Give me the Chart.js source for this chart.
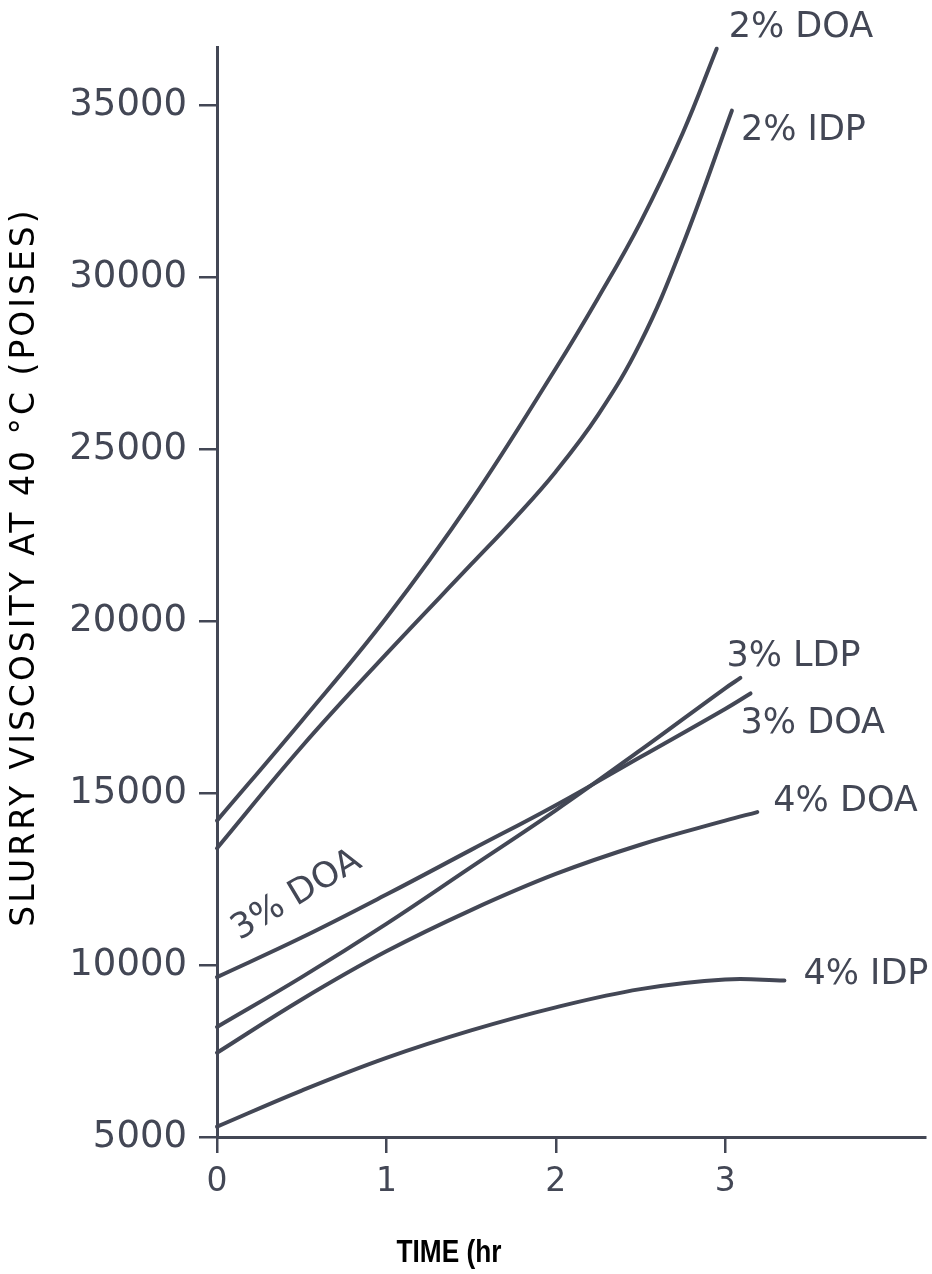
<!DOCTYPE html>
<html>
<head>
<meta charset="utf-8">
<script src="https://cdn.jsdelivr.net/npm/chart.js@4/dist/chart.umd.min.js"></script>
<style>
  html, body { margin: 0; padding: 0; background: #fff; }
  #wrap { width: 932px; height: 1274px; position: relative; }
</style>
</head>
<body>
<div id="wrap"><canvas id="viscChart"></canvas></div>
<script>
//tick values
const xTicks = [0, 1, 2, 3];
const yTicks = [5000, 10000, 15000, 20000, 25000, 30000, 35000];

//curve names
const seriesNames = ["2% DOA", "2% IDP", "3% LDP", "3% DOA", "4% DOA", "4% IDP"];

//time (hr) and viscosity (poises)
const doa2Time = [0, 0.5, 1, 1.5, 2, 2.25, 2.5, 2.75, 2.95];
const doa2Visc = [14200, 17100, 20100, 23500, 27350, 29400, 31600, 34200, 36650];

const idp2Time = [0, 0.5, 1, 1.5, 1.75, 2, 2.25, 2.5, 2.75, 3.04];
const idp2Visc = [13400, 16350, 19050, 21650, 22950, 24350, 26000, 28100, 30950, 34850];

const ldp3Time = [0, 0.5, 1, 1.5, 2, 2.5, 3, 3.09];
const ldp3Visc = [8200, 9650, 11200, 12850, 14500, 16250, 18050, 18350];

const doa3Time = [0, 0.5, 1, 1.5, 2, 2.5, 3, 3.15];
const doa3Visc = [9650, 10800, 12050, 13350, 14650, 16050, 17450, 17900];

const doa4Time = [0, 0.5, 1, 1.5, 2, 2.5, 3, 3.19];
const doa4Visc = [7450, 9000, 10400, 11600, 12650, 13500, 14200, 14450];

const idp4Time = [0, 0.5, 1, 1.5, 2, 2.5, 3, 3.35];
const idp4Visc = [5300, 6350, 7300, 8100, 8770, 9300, 9580, 9550];

const inkColor = "#434755";
const labelFont = "35px 'DejaVu Sans'";

//pair up x and y arrays for the library
function toPoints(xs, ys) {
  return xs.map((x, i) => ({ x: x, y: ys[i] }));
}

//label placement next to the end of each curve (pixel offsets)
const endLabelOffsets = [
  [12, -21],
  [9, 20],
  [-14, -21],
  [-10, 30],
  [16, -10],
  [19, -6]
];

const allSeries = [
  toPoints(doa2Time, doa2Visc),
  toPoints(idp2Time, idp2Visc),
  toPoints(ldp3Time, ldp3Visc),
  toPoints(doa3Time, doa3Visc),
  toPoints(doa4Time, doa4Visc),
  toPoints(idp4Time, idp4Visc)
];

const datasets = allSeries.map((pts, i) => ({
  label: seriesNames[i],
  data: pts,
  borderColor: inkColor,
  borderWidth: 4,
  borderCapStyle: "round",
  pointRadius: 0,
  tension: 0.4,
  fill: false,
  clip: false
}));

//draws curve names and axis titles
const curveLabels = {
  id: "curveLabels",
  afterDatasetsDraw(chart) {
    const ctx = chart.ctx;
    ctx.save();
    ctx.fillStyle = inkColor;
    ctx.font = labelFont;
    ctx.textAlign = "left";
    ctx.textBaseline = "middle";

    chart.data.datasets.forEach((ds, i) => {
      const pts = chart.getDatasetMeta(i).data;
      const end = pts[pts.length - 1];
      ctx.fillText(ds.label, end.x + endLabelOffsets[i][0], end.y + endLabelOffsets[i][1]);
    });

    //slanted "3% DOA" near the start of its curve
    const p = chart.getDatasetMeta(3).data[1];
    ctx.save();
    ctx.translate(p.x - 5, p.y - 42);
    ctx.rotate(-31 * Math.PI / 180);
    ctx.textAlign = "center";
    ctx.fillText(seriesNames[3], 0, 0);
    ctx.restore();

    //axis titles
    ctx.fillStyle = "#000";
    ctx.save();
    ctx.translate(25, 567);
    ctx.rotate(-Math.PI / 2);
    ctx.textAlign = "center";
    ctx.font = "33px 'DejaVu Sans'";
    ctx.letterSpacing = "3px";
    ctx.fillText("SLURRY VISCOSITY AT 40 °C (POISES)", 0, 0);
    ctx.restore();

    ctx.save();
    ctx.translate(449, 1262);
    ctx.scale(0.82, 1);
    ctx.textAlign = "center";
    ctx.textBaseline = "alphabetic";
    ctx.font = "bold 32px 'Liberation Sans'";
    ctx.fillText("TIME (hr", 0, 0);
    ctx.restore();

    ctx.restore();
  }
};

new Chart(document.getElementById("viscChart"), {
  type: "line",
  data: { datasets: datasets },
  options: {
    responsive: true,
    maintainAspectRatio: false,
    animation: false,
    layout: { padding: { top: 47, right: 7, left: 0, bottom: 0 } },
    plugins: {
      legend: { display: false },
      tooltip: { enabled: false }
    },
    scales: {
      x: {
        type: "linear",
        min: 0,
        max: 4.18,
        afterBuildTicks: scale => { scale.ticks = xTicks.map(v => ({ value: v })); },
        afterFit: scale => { scale.height = 137; },
        grid: { drawOnChartArea: false, drawTicks: true, tickLength: 16, color: inkColor, lineWidth: 2.5 },
        border: { display: true, color: inkColor, width: 3 },
        ticks: {
          color: inkColor,
          font: { family: "DejaVu Sans", size: 33 },
          padding: 10,
          maxRotation: 0,
          callback: v => String(v)
        }
      },
      y: {
        type: "linear",
        min: 5000,
        max: 36700,
        afterBuildTicks: scale => { scale.ticks = yTicks.map(v => ({ value: v })); },
        afterFit: scale => { scale.width = 217; },
        grid: { drawOnChartArea: false, drawTicks: true, tickLength: 18, color: inkColor, lineWidth: 2.5 },
        border: { display: true, color: inkColor, width: 3 },
        ticks: {
          color: inkColor,
          font: { family: "DejaVu Sans", size: 37 },
          padding: 12,
          callback: v => String(v)
        }
      }
    }
  },
  plugins: [curveLabels]
});
</script>
</body>
</html>
